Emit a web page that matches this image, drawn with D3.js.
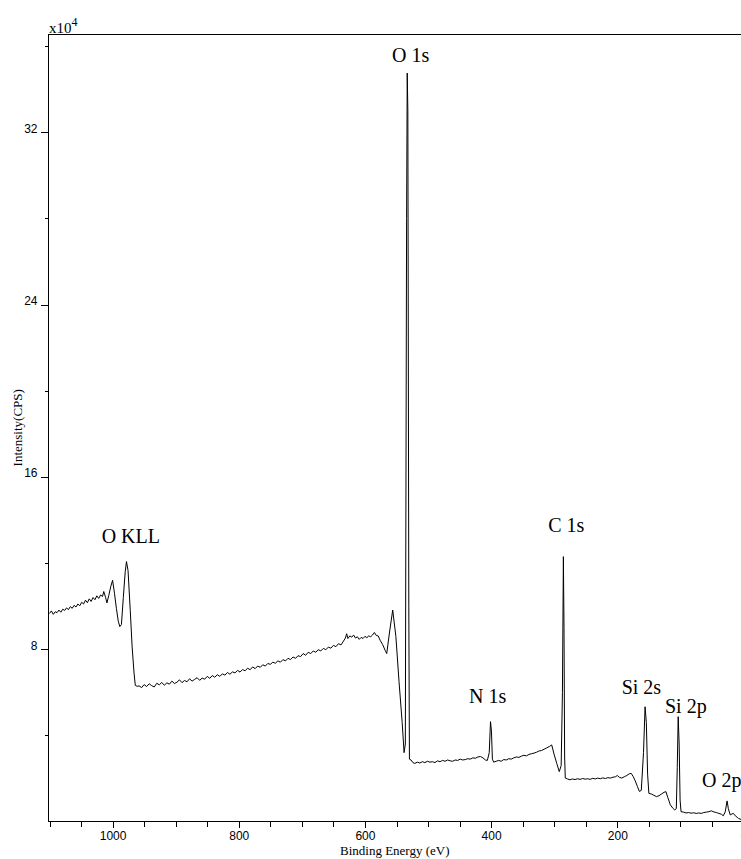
<!DOCTYPE html>
<html>
<head>
<meta charset="utf-8">
<script src="https://cdn.jsdelivr.net/npm/d3@7"></script>
<style>
  body { margin: 0; background: #fff; }
  svg { display: block; }
  .tick text { font-family: "Liberation Sans", Arial, sans-serif; font-size: 12px; fill: #000; }
  .tick line { stroke: #000; }
  .peak { font-family: "Liberation Serif", "Times New Roman", serif; font-size: 20px; fill: #000; }
  .title { font-family: "Liberation Serif", "Times New Roman", serif; font-size: 13px; fill: #000; }
</style>
</head>
<body>
<div id="chart"></div>
<script>
// binding energy (eV) and intensity (x10^4 CPS)
const bindingEnergy = [
  1100, 1097, 1094, 1091, 1088, 1085, 1082, 1079, 1076, 1073, 1070, 1067, 1064, 1061, 1058, 1055,
  1052, 1049, 1046, 1043, 1040, 1037, 1034, 1031, 1028, 1025, 1022, 1019, 1016, 1014, 1011, 1009,
  1006, 1003, 1000, 997, 994, 991, 988.5, 986, 983, 980, 978, 975.5, 972, 969, 966, 964, 961,
  958, 954, 950, 946, 942, 938, 934, 930, 926, 922, 918, 914, 910, 906, 902, 898, 894, 890, 886,
  882, 878, 874, 870, 866, 862, 858, 854, 850, 846, 842, 838, 834, 830, 826, 822, 818, 814, 810,
  806, 802, 798, 794, 790, 786, 782, 778, 774, 770, 766, 762, 758, 754, 750, 746, 742, 738, 734,
  730, 726, 722, 718, 714, 710, 706, 702, 698, 694, 690, 686, 682, 678, 674, 670, 666, 662, 658,
  654, 650, 646, 642, 638, 634, 631, 629, 627, 624, 621, 618, 615, 612, 609, 606, 603, 600, 597,
  594, 591, 588, 585, 582, 579, 576, 572, 568, 565.5, 561, 556, 551, 546, 541, 538,
  536, 534, 533, 532, 530.5, 529.5,
  527, 524, 521, 517, 513, 509, 505, 501, 497, 493, 489, 485, 481, 477, 473, 469, 465, 461, 457,
  453, 449, 445, 441, 437, 433, 429, 425, 421, 417, 413, 409, 406, 403, 401, 399.5, 398, 396, 392,
  388, 384, 380, 376, 372, 368, 364, 360, 356, 352, 348, 344, 340, 336, 332, 328, 324, 320, 316,
  312, 308, 304, 300, 296, 292, 289, 287, 285.5, 284.5, 283.5, 282.5, 279, 275, 271, 267, 263,
  259, 255, 251, 247, 243, 239, 235, 231, 227, 223, 219, 215, 211, 207, 203, 200, 197, 193, 189,
  185, 181, 178, 175, 172, 168, 165, 162, 158.5, 156, 154, 152, 150, 146, 142, 138, 134, 130, 126,
  123, 120, 116, 112, 109, 106.5, 105, 103.5, 102, 100.5, 99, 95, 91, 87, 83, 79, 75, 71, 67, 63,
  59, 55, 51, 47, 43, 39, 35, 32, 29, 26, 24, 21, 18, 16, 13, 10, 8, 4, 0
];
const intensity = [
  9.66, 9.78, 9.62, 9.74, 9.70, 9.82, 9.72, 9.86, 9.80, 9.92, 9.84, 9.98, 9.90, 10.04, 9.96, 10.10,
  10.02, 10.18, 10.10, 10.28, 10.16, 10.34, 10.22, 10.40, 10.30, 10.48, 10.36, 10.52, 10.45, 10.68, 10.40, 10.15,
  10.50, 10.90, 11.20, 10.60, 9.90, 9.30, 9.05, 9.15, 10.40, 11.60, 12.07, 11.65, 9.80, 8.10, 6.90, 6.32, 6.28,
  6.30, 6.22, 6.36, 6.27, 6.40, 6.31, 6.25, 6.42, 6.35, 6.46, 6.33, 6.44, 6.38, 6.52, 6.41, 6.47, 6.58, 6.45, 6.55,
  6.49, 6.63, 6.52, 6.60, 6.68, 6.56, 6.66, 6.61, 6.74, 6.65, 6.78, 6.70, 6.82, 6.74, 6.86, 6.80, 6.92, 6.84, 6.95,
  6.90, 7.02, 6.94, 7.06, 7.00, 7.12, 7.05, 7.18, 7.10, 7.22, 7.16, 7.28, 7.22, 7.34, 7.30, 7.40, 7.35, 7.46, 7.40,
  7.52, 7.46, 7.58, 7.52, 7.64, 7.58, 7.70, 7.66, 7.80, 7.72, 7.86, 7.80, 7.92, 7.86, 7.98, 7.92, 8.04, 7.98, 8.10,
  8.05, 8.18, 8.12, 8.26, 8.20, 8.38, 8.52, 8.72, 8.50, 8.62, 8.56, 8.66, 8.52, 8.58, 8.46, 8.55, 8.50, 8.60, 8.54,
  8.62, 8.58, 8.66, 8.78, 8.64, 8.62, 8.42, 8.22, 7.95, 7.80, 8.80, 9.82, 8.60, 6.50, 4.60, 3.20,
  3.60, 28.0, 34.75, 33.0, 10.0, 2.90,
  2.86, 2.74, 2.70, 2.76, 2.72, 2.78, 2.74, 2.80, 2.76, 2.78, 2.74, 2.82, 2.78, 2.84, 2.80, 2.86, 2.82, 2.80, 2.86,
  2.84, 2.90, 2.86, 2.88, 2.92, 2.90, 2.96, 2.94, 3.00, 3.02, 2.96, 2.86, 2.84, 3.20, 4.64, 4.20, 2.90, 2.76, 2.80,
  2.84, 2.80, 2.88, 2.86, 2.92, 2.90, 2.96, 3.00, 2.98, 3.04, 3.08, 3.05, 3.12, 3.15, 3.18, 3.22, 3.28, 3.30, 3.36,
  3.42, 3.48, 3.56, 3.10, 2.70, 2.32, 2.60, 6.00, 12.30, 9.00, 3.00, 2.02, 1.98, 1.94, 1.98, 1.95, 1.99,
  1.96, 2.00, 1.97, 1.99, 1.96, 2.01, 1.98, 2.02, 1.99, 2.03, 2.00, 2.04, 2.02, 2.06, 2.08, 2.14, 2.06, 2.02, 2.08,
  2.14, 2.22, 2.24, 2.10, 1.92, 1.62, 1.40, 1.45, 3.20, 5.33, 4.60, 2.20, 1.31, 1.28, 1.22, 1.16, 1.20, 1.28, 1.36,
  1.39, 1.12, 0.78, 0.62, 0.54, 0.60, 2.50, 4.87, 3.60, 1.00, 0.46, 0.44, 0.40, 0.42, 0.39, 0.41, 0.38, 0.40, 0.38, 0.42,
  0.44, 0.46, 0.50, 0.45, 0.42, 0.38, 0.34, 0.27, 0.45, 0.96, 0.60, 0.31, 0.36, 0.38, 0.27, 0.20, 0.15, 0.10, 0.08
];

const xMajorTicks = [1000, 800, 600, 400, 200, 0];
const xMinorTicks = [1100, 1050, 950, 900, 850, 750, 700, 650, 550, 500, 450, 350, 300, 250, 150, 100, 50];
const yMajorTicks = [8, 16, 24, 32];
const yMinorTicks = [4, 12, 20, 28, 36];

// peak annotations: label text, left edge (eV), baseline (x10^4 CPS)
const peakNames = ["O 1s", "O KLL", "C 1s", "N 1s", "Si 2s", "Si 2p", "O 2p"];
const peakEnergy = [557.1, 1017.3, 309.4, 435.1, 193.1, 124.4, 65.8];
const peakLabelHeight = [35.26, 12.91, 13.45, 5.49, 5.92, 5.02, 1.59];

const width = 741, height = 859;
const plotLeft = 48.5, plotTop = 34, plotBottom = 821.6;

const svg = d3.select("#chart").append("svg")
    .attr("width", width)
    .attr("height", height);

const x = d3.scaleLinear().domain([1100, 0]).range([49.5, 743.5]);
const y = d3.scaleLinear().domain([0, 36.56]).range([plotBottom, plotTop]);

// frame: left axis, top line, bottom axis
svg.append("line").attr("x1", plotLeft).attr("x2", plotLeft).attr("y1", plotTop).attr("y2", plotBottom + 0.5)
    .attr("stroke", "#000").attr("shape-rendering", "crispEdges");
svg.append("line").attr("x1", plotLeft).attr("x2", width).attr("y1", plotTop).attr("y2", plotTop)
    .attr("stroke", "#000").attr("shape-rendering", "crispEdges");
svg.append("line").attr("x1", plotLeft).attr("x2", width).attr("y1", plotBottom).attr("y2", plotBottom)
    .attr("stroke", "#000").attr("shape-rendering", "crispEdges");

// x axis ticks
const xMajorG = svg.append("g").attr("transform", `translate(0,${plotBottom})`)
    .call(d3.axisBottom(x).tickValues(xMajorTicks).tickSize(6).tickPadding(4).tickFormat(d3.format("d")));
xMajorG.select(".domain").remove();
xMajorG.selectAll("line").attr("shape-rendering", "crispEdges");

const xMinorG = svg.append("g").attr("transform", `translate(0,${plotBottom})`)
    .call(d3.axisBottom(x).tickValues(xMinorTicks).tickSize(5).tickFormat(""));
xMinorG.select(".domain").remove();
xMinorG.selectAll("line").attr("shape-rendering", "crispEdges");

// y axis ticks (label baseline sits on the tick)
const yMajorG = svg.append("g").attr("transform", `translate(${plotLeft},0)`)
    .call(d3.axisLeft(y).tickValues(yMajorTicks).tickSize(8).tickPadding(3));
yMajorG.select(".domain").remove();
yMajorG.selectAll("line").attr("shape-rendering", "crispEdges");
yMajorG.selectAll("text").attr("dy", "0");

const yMinorG = svg.append("g").attr("transform", `translate(${plotLeft},0)`)
    .call(d3.axisLeft(y).tickValues(yMinorTicks).tickSize(4).tickFormat(""));
yMinorG.select(".domain").remove();
yMinorG.selectAll("line").attr("shape-rendering", "crispEdges");

// x10^4 multiplier
const mult = svg.append("text").attr("x", plotLeft + 0.5).attr("y", 33)
    .attr("font-family", "Liberation Serif, serif").attr("font-size", 15);
mult.append("tspan").text("x10");
mult.append("tspan").attr("dy", -7).attr("font-size", 12).text("4");

// axis titles
svg.append("text").attr("class", "title")
    .attr("x", (plotLeft + width) / 2).attr("y", 855)
    .attr("text-anchor", "middle").text("Binding Energy (eV)");
svg.append("text").attr("class", "title")
    .attr("transform", `translate(22,${(plotTop + plotBottom) / 2}) rotate(-90)`)
    .attr("text-anchor", "middle").text("Intensity(CPS)");

// spectrum
const points = bindingEnergy.map((be, i) => [be, intensity[i]]);
svg.append("path")
    .datum(points)
    .attr("fill", "none")
    .attr("stroke", "#000")
    .attr("stroke-width", 1)
    .attr("d", d3.line().x(d => x(d[0])).y(d => y(d[1])));

// peak labels
svg.selectAll(".peak")
    .data(peakNames)
    .join("text")
    .attr("class", "peak")
    .attr("x", (d, i) => x(peakEnergy[i]))
    .attr("y", (d, i) => y(peakLabelHeight[i]))
    .text(d => d);
</script>
</body>
</html>
